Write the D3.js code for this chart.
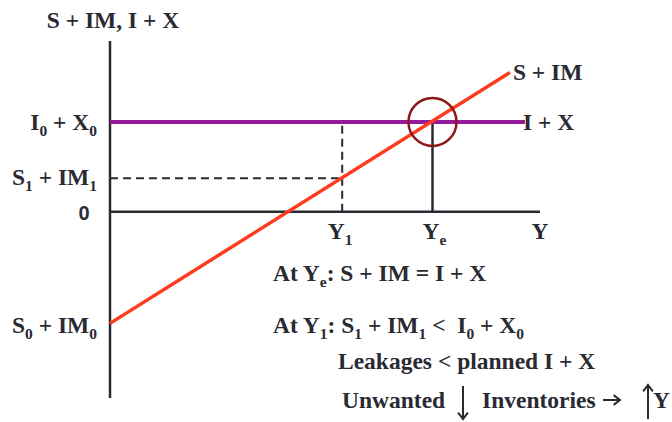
<!DOCTYPE html>
<html lang="en">
<head>
  <meta charset="UTF-8">
  <title>Leakages and injections: S + IM vs I + X</title>
  <script src="https://d3js.org/d3.v7.min.js"></script>
  <style>
    body { margin: 0; background: #fff; }
    svg { display: block; }
    .lbl { font-family: "Liberation Serif", "Times New Roman", serif; font-weight: bold; font-size: 23.5px; fill: #2a2a33; }
    .sub { font-size: 15.5px; }
    .zero { font-family: "Liberation Sans", Arial, sans-serif; font-weight: bold; font-size: 20px; fill: #2a2a33; }
  </style>
</head>
<body>
<svg width="672" height="422"></svg>
<script>
  // data (income on x, leakages/injections on y)
  const xDomain = [0, 100];
  const yDomain = [-207, 190];
  const injection = 100;                 // I0 + X0
  const injectionEnd = 96.5;             // where the I + X line stops
  const leakagePts = [[0, -124], [93, 155]];   // S + IM line ends (S0 + IM0 at Y = 0)
  const Y1 = 54, S1 = 37.5;              // S1 + IM1 at Y1
  const Ye = 75;                         // equilibrium income

  const svg = d3.select("svg");
  const x = d3.scaleLinear().domain(xDomain).range([110, 540]);
  const y = d3.scaleLinear().domain(yDomain).range([398, 41]);
  const ink = "#2a2a33";

  // axes
  svg.append("line").attr("x1", x(0)).attr("x2", x(0)).attr("y1", y(yDomain[0])).attr("y2", y(yDomain[1]))
    .attr("stroke", ink).attr("stroke-width", 2.5);
  svg.append("line").attr("x1", x(0)).attr("x2", x(100)).attr("y1", y(0)).attr("y2", y(0))
    .attr("stroke", ink).attr("stroke-width", 2.5);

  // dashed guides at Y1
  svg.append("line").attr("x1", x(0)).attr("x2", x(Y1)).attr("y1", y(S1)).attr("y2", y(S1))
    .attr("stroke", ink).attr("stroke-width", 2).attr("stroke-dasharray", "8,5");
  svg.append("line").attr("x1", x(Y1)).attr("x2", x(Y1)).attr("y1", y(0)).attr("y2", y(injection))
    .attr("stroke", ink).attr("stroke-width", 2).attr("stroke-dasharray", "8,5");

  // equilibrium drop line
  svg.append("line").attr("x1", x(Ye)).attr("x2", x(Ye)).attr("y1", y(0)).attr("y2", y(injection))
    .attr("stroke", ink).attr("stroke-width", 2.5);

  // I + X
  svg.append("line").attr("x1", x(0)).attr("x2", x(injectionEnd)).attr("y1", y(injection)).attr("y2", y(injection))
    .attr("stroke", "#931a99").attr("stroke-width", 4);

  // S + IM
  svg.append("path").datum(leakagePts)
    .attr("d", d3.line().x(d => x(d[0])).y(d => y(d[1])))
    .attr("fill", "none").attr("stroke", "#ff3b1f").attr("stroke-width", 3.5);

  // circle at equilibrium
  svg.append("circle").attr("cx", x(Ye)).attr("cy", y(injection)).attr("r", 24)
    .attr("fill", "none").attr("stroke", "#8c1717").attr("stroke-width", 2.5);

  // labels with subscripts: plain strings are normal text, [s] is a subscript
  function label(xp, yp, parts, anchor) {
    const t = svg.append("text").attr("class", "lbl").attr("x", xp).attr("y", yp)
      .attr("text-anchor", anchor || "start");
    let low = false;
    parts.forEach(p => {
      if (Array.isArray(p)) {
        t.append("tspan").attr("class", "sub").attr("dy", low ? 0 : 6).text(p[0]);
        low = true;
      } else {
        t.append("tspan").attr("dy", low ? -6 : 0).text(p);
        low = false;
      }
    });
    return t;
  }

  label(113, 28, ["S + IM, I + X"], "middle");
  label(97, 130, ["I", ["0"], " + X", ["0"]], "end");
  label(97, 185, ["S", ["1"], " + IM", ["1"]], "end");
  svg.append("text").attr("class", "zero").attr("x", 84).attr("y", 220).attr("text-anchor", "middle").text("0");
  label(97, 333, ["S", ["0"], " + IM", ["0"]], "end");

  label(x(Y1) - 2, 239, ["Y", ["1"]], "middle");
  label(x(Ye) + 2, 239, ["Y", ["e"]], "middle");
  label(540, 239, ["Y"], "middle");

  label(x(leakagePts[1][0]) + 3, 80, ["S + IM"]);
  label(x(injectionEnd) - 2, 130, ["I + X"]);

  label(273, 281, ["At Y", ["e"], ": S + IM = I + X"]);
  label(273, 333, ["At Y", ["1"], ": S", ["1"], " + IM", ["1"], " < \u00a0I", ["0"], " + X", ["0"]]);
  label(338, 369, ["Leakages < planned I + X"]);
  label(342, 408, ["Unwanted"]);
  label(482, 408, ["Inventories"]);
  label(653, 408, ["Y"]);

  // thin arrows
  const arrow = (x0, y0, x1, y1) => {
    const a = Math.atan2(y1 - y0, x1 - x0), h = 8, w = 0.65;
    svg.append("path")
      .attr("d", `M${x0},${y0}L${x1},${y1}` +
        `M${x1 - h * Math.cos(a - w)},${y1 - h * Math.sin(a - w)}L${x1},${y1}L${x1 - h * Math.cos(a + w)},${y1 - h * Math.sin(a + w)}`)
      .attr("fill", "none").attr("stroke", ink).attr("stroke-width", 2);
  };
  arrow(463, 386, 463, 419);
  arrow(603, 400, 620, 400);
  arrow(648, 419, 648, 385);
</script>
</body>
</html>
